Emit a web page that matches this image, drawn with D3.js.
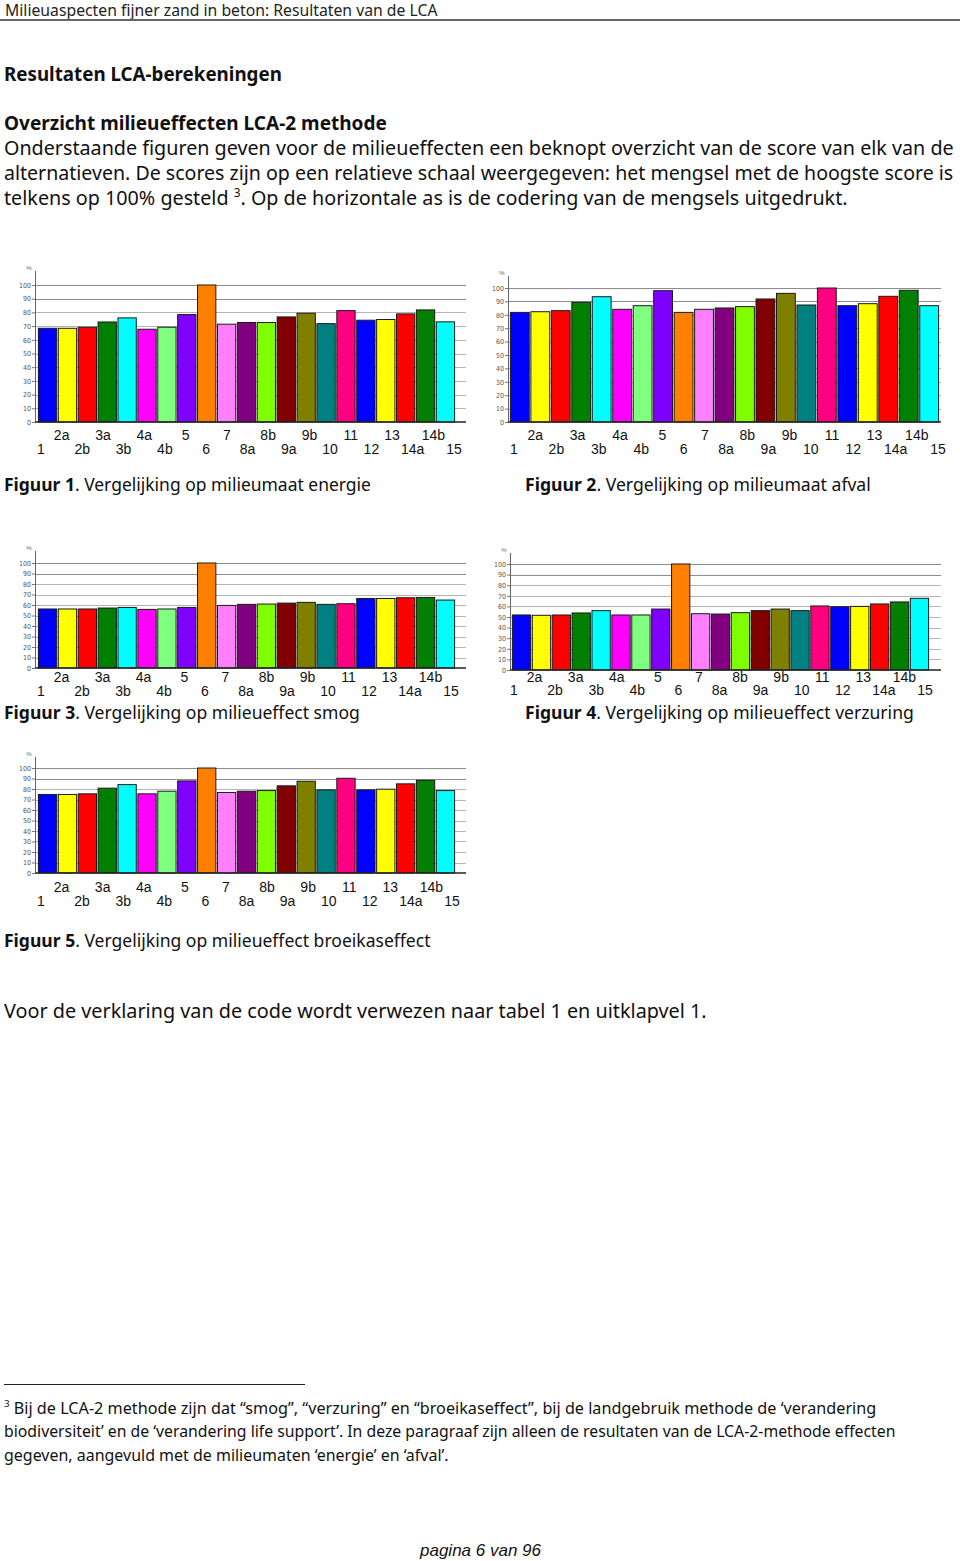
<!DOCTYPE html>
<html><head><meta charset="utf-8">
<script src="https://cdn.jsdelivr.net/npm/d3@7"></script>
<style>html,body{margin:0;padding:0;background:#fff;} svg{display:block;}</style>
</head><body>
<svg id="page" width="960" height="1561"></svg>
<script>
// ---------- data ----------
const categories = ["1","2a","2b","3a","3b","4a","4b","5","6","7","8a","8b","9a","9b","10","11","12","13","14a","14b","15"];
const barColors = ["#0000ff","#ffff00","#ff0000","#007f00","#00ffff","#ff00ff","#80ff80","#8000ff","#ff8000","#ff80ff","#800080","#80ff00","#800000","#808000","#008080","#ff0080","#0000ff","#ffff00","#ff0000","#007f00","#00ffff"];
const yTicks = [0,10,20,30,40,50,60,70,80,90,100];

const energie   = [68.4,68.4,69.2,73.0,76.0,67.7,69.2,78.4,100,71.4,72.6,72.6,76.7,79.4,71.8,81.3,74.3,74.8,78.9,81.8,73.1];
const afval     = [81.8,82.3,83.1,89.3,93.5,84.1,86.8,98.0,81.8,84.1,85.1,86.1,91.8,96.0,87.3,100,86.8,88.3,93.8,98.3,86.8];
const smog      = [56.2,56.2,56.2,57.1,57.7,55.8,56.2,57.7,100,59.6,60.6,60.9,61.8,62.5,60.6,61.2,66.2,66.2,66.9,67.2,64.7];
const verzuring = [51.9,51.6,51.9,53.8,56.0,51.9,51.9,57.5,100,53.1,52.8,54.1,56.0,57.5,56.0,60.4,59.7,60.0,62.3,64.2,67.6];
const broeikas  = [74.8,74.8,75.4,80.8,84.2,75.4,77.9,87.7,100,76.7,77.9,78.5,83.0,87.4,79.2,90.2,79.2,79.8,84.9,88.3,78.5];

const captions = [
  ["Figuur 1", ". Vergelijking op milieumaat energie"],
  ["Figuur 2", ". Vergelijking op milieumaat afval"],
  ["Figuur 3", ". Vergelijking op milieueffect smog"],
  ["Figuur 4", ". Vergelijking op milieueffect verzuring"],
  ["Figuur 5", ". Vergelijking op milieueffect broeikaseffect"]
];

// ---------- page ----------
const svg = d3.select("#page");
svg.append("rect").attr("width",960).attr("height",1561).attr("fill","#fff");
const DOC = "'Noto Sans', 'Open Sans', sans-serif";

function build(x, y, parts, size, opts) {
  const t = svg.append("text").attr("x", x).attr("y", y)
    .attr("font-family", opts.family || DOC).attr("font-size", size)
    .attr("fill", opts.fill || "#111");
  if (opts.italic) t.attr("font-style","italic");
  parts.forEach(p => {
    if (typeof p === "string") p = {t:p};
    const s = t.append("tspan").text(p.t);
    if (p.bold) s.attr("font-weight","bold");
    if (p.sup) s.attr("font-size", size*0.6).attr("dy", -size*0.42);
    if (p.after) s.attr("dy", size*0.42);
  });
  return t;
}
// fit text to a target width by adjusting its font size (keeps glyph shapes)
function txt(x, y, parts, size, width, opts) {
  opts = opts || {};
  let t = build(x, y, parts, size, opts);
  if (width) {
    const len = t.node().getComputedTextLength();
    const s2 = Math.min(size * 1.15, size * width / len);
    t.remove();
    t = build(x, y, parts, s2, opts);
  }
  return t;
}

// header
txt(5, 16, ["Milieuaspecten fijner zand in beton: Resultaten van de LCA"], 16, 433, {fill:"#222"});
svg.append("line").attr("x1",0).attr("x2",960).attr("y1",20).attr("y2",20).attr("stroke","#666").attr("stroke-width",2);

txt(4, 81, [{t:"Resultaten LCA-berekeningen", bold:true}], 20, 278);
txt(4, 130, [{t:"Overzicht milieueffecten LCA-2 methode", bold:true}], 20, 383);
txt(4, 155, ["Onderstaande figuren geven voor de milieueffecten een beknopt overzicht van de score van elk van de"], 20, 950);
txt(4, 180, ["alternatieven. De scores zijn op een relatieve schaal weergegeven: het mengsel met de hoogste score is"], 20, 950);
txt(4, 205, ["telkens op 100% gesteld ", {t:"3", sup:true}, {t:". Op de horizontale as is de codering van de mengsels uitgedrukt.", after:true}], 20, 844);

// ---------- charts ----------
function drawChart(values, c) {
  const g = svg.append("g");
  const x = d3.scaleBand().domain(categories).range(c.bars).paddingInner(0.08).paddingOuter(0.02);
  const y = d3.scaleLinear().domain([0,100]).range([c.y0, c.y100]);

  g.selectAll("line.grid").data(yTicks.filter(t => t > 0)).join("line")
    .attr("class","grid")
    .attr("x1", c.axisX).attr("x2", c.right)
    .attr("y1", d => Math.round(y(d)) + 0.5).attr("y2", d => Math.round(y(d)) + 0.5)
    .attr("stroke", d => d >= 90 ? "#8c8c8c" : "#b4b4b4").attr("stroke-width", 1);

  const ax = g.append("g").attr("transform", `translate(${c.axisX},0)`)
    .call(d3.axisLeft(y).tickValues(yTicks).tickSize(3).tickPadding(1));
  ax.select(".domain").remove();
  ax.selectAll(".tick line").attr("stroke","#777");
  ax.selectAll(".tick text").attr("font-family","'Liberation Sans Narrow','DejaVu Sans Condensed',sans-serif")
    .attr("font-size", 7).attr("fill","#555");

  g.append("line").attr("x1", c.axisX + 0.5).attr("x2", c.axisX + 0.5)
    .attr("y1", c.top).attr("y2", c.y0).attr("stroke","#666").attr("stroke-width",1);
  g.append("text").attr("x", c.axisX - 6).attr("y", c.top - 1).attr("text-anchor","middle")
    .attr("font-family","'Liberation Sans',sans-serif").attr("font-size",6).attr("fill","#666").text("%");

  g.selectAll("rect.bar").data(values).join("rect")
    .attr("class","bar")
    .attr("x", (d,i) => x(categories[i])).attr("width", x.bandwidth())
    .attr("y", d => y(d)).attr("height", d => c.y0 - y(d))
    .attr("fill", (d,i) => barColors[i]).attr("stroke","#1a1a1a").attr("stroke-width",1);

  g.append("line").attr("x1", c.axisX).attr("x2", c.right)
    .attr("y1", c.y0).attr("y2", c.y0).attr("stroke","#222").attr("stroke-width",1.5);

  const lx = d3.scalePoint().domain(categories).range(c.labels);
  g.selectAll("text.xl").data(categories).join("text")
    .attr("class","xl")
    .attr("x", d => lx(d)).attr("y", (d,i) => (i % 2 ? c.rows[0] : c.rows[1]) + 5)
    .attr("text-anchor","middle")
    .attr("font-family","'Liberation Sans', Arial, sans-serif").attr("font-size",14).attr("fill","#111")
    .text(d => d);
}

drawChart(energie,   {axisX:35,  bars:[38,455],  right:466, y0:422, y100:285, top:271, labels:[41,454],  rows:[435,449]});
drawChart(afval,     {axisX:508, bars:[510,939], right:941, y0:422, y100:288, top:276, labels:[514,938], rows:[435,449]});
drawChart(smog,      {axisX:35,  bars:[38,455],  right:466, y0:668, y100:563, top:551, labels:[41,451],  rows:[677,691]});
drawChart(verzuring, {axisX:510, bars:[512,929], right:941, y0:670, y100:564, top:553, labels:[514,925], rows:[677,690]});
drawChart(broeikas,  {axisX:35,  bars:[38,455],  right:466, y0:873, y100:768, top:757, labels:[41,452],  rows:[887,901]});

// captions
const capPos = [[4,491,367],[525,491,346],[4,719,356],[525,719,389],[4,947,427]];
captions.forEach((c,i) => {
  const p = capPos[i];
  txt(p[0], p[1], [{t:c[0], bold:true}, c[1]], 19, p[2]);
});

txt(4, 1018, ["Voor de verklaring van de code wordt verwezen naar tabel 1 en uitklapvel 1."], 20, 703);

// footnote
svg.append("line").attr("x1",4).attr("x2",305).attr("y1",1384.5).attr("y2",1384.5).attr("stroke","#222").attr("stroke-width",1);
txt(4, 1414, [{t:"3", sup:true}, {t:" Bij de LCA-2 methode zijn dat \u201csmog\u201d, \u201cverzuring\u201d en \u201cbroeikaseffect\u201d, bij de landgebruik methode de \u2018verandering", after:true}], 16, 873);
txt(4, 1437, ["biodiversiteit\u2019 en de \u2018verandering life support\u2019. In deze paragraaf zijn alleen de resultaten van de LCA-2-methode effecten"], 16, 892);
txt(4, 1461, ["gegeven, aangevuld met de milieumaten \u2018energie\u2019 en \u2018afval\u2019."], 16, 445);

txt(420, 1556, ["pagina 6 van 96"], 16, 121, {family:"'Liberation Sans', Arial, sans-serif", italic:true});
</script>
</body></html>
